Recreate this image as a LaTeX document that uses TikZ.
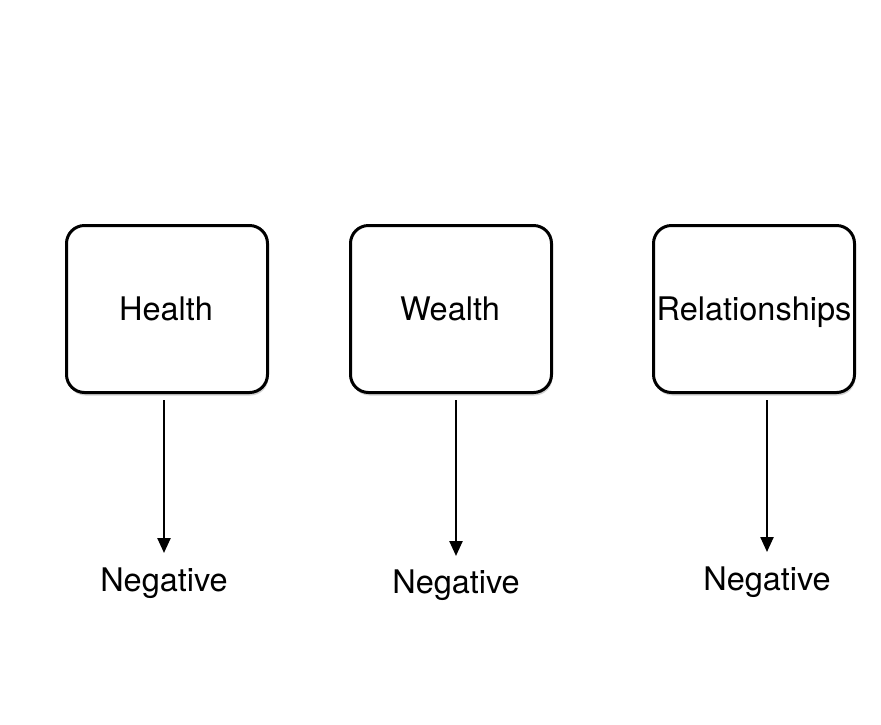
\documentclass[tikz,border=0pt]{standalone}
\usepackage{fontspec}
\setmainfont{TeX Gyre Heros}
\usetikzlibrary{arrows.meta,shadows}
\begin{document}
\begin{tikzpicture}[x=1pt,y=-1pt,
  box/.style={draw,line width=3pt,rounded corners=18pt,minimum width=201pt,minimum height=167pt,inner sep=0pt,fill=white,
    drop shadow={shadow xshift=1pt,shadow yshift=-3pt,opacity=0.18,fill=black}},
  lbl/.style={font=\fontsize{32.5}{38}\selectfont,inner sep=0pt,anchor=base},
  arr/.style={line width=2.4pt,-{Triangle[length=15pt,width=13pt]},shorten <=6pt}]
\useasboundingbox[fill=white] (0,0) rectangle (881,724);
\node[box] (h) at (167,309) {};
\node[lbl] (ht) at (166,320) {Health};
\node[box] (w) at (451,309) {};
\node[lbl] (wt) at (450,320) {Wealth};
\node[box] (r) at (754,309) {};
\node[lbl] (rt) at (754,320) {Relationships};
\node[lbl] (hn) at (164,591) {Negative};
\node[lbl] (wn) at (456,593) {Negative};
\node[lbl] (rn) at (767,590) {Negative};
\coordinate (he) at (164,553);
\coordinate (we) at (456,556);
\coordinate (re) at (767,552);
\draw[arr] (h.south -| he) -- (he);
\draw[arr] (w.south -| we) -- (we);
\draw[arr] (r.south -| re) -- (re);
\end{tikzpicture}
\end{document}
